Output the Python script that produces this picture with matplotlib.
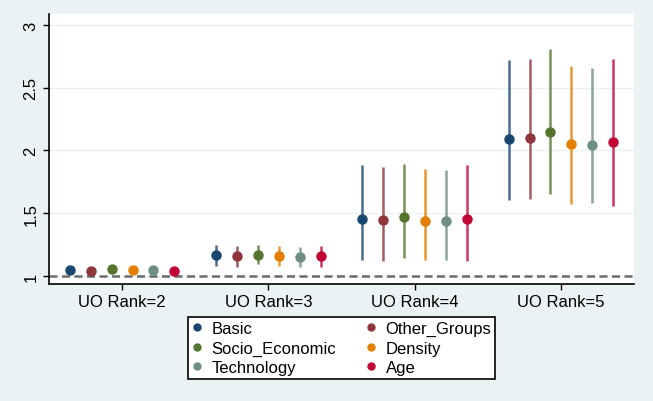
import numpy as np
import matplotlib
matplotlib.use('Agg')
import matplotlib.pyplot as plt
from matplotlib.lines import Line2D

plt.rcParams['font.family'] = ['Liberation Sans', 'DejaVu Sans']

categories = ['UO Rank=2', 'UO Rank=3', 'UO Rank=4', 'UO Rank=5']
models = ['Basic', 'Other_Groups', 'Socio_Economic', 'Density', 'Technology', 'Age']
colors = ['#1a476f', '#90353b', '#55752f', '#e37e00', '#6e8e84', '#c10534']

# point estimates per model, one value per category
est = {
    'Basic':          [1.048, 1.165, 1.454, 2.090],
    'Other_Groups':   [1.040, 1.157, 1.446, 2.097],
    'Socio_Economic': [1.056, 1.170, 1.473, 2.150],
    'Density':        [1.048, 1.157, 1.440, 2.050],
    'Technology':     [1.045, 1.155, 1.440, 2.040],
    'Age':            [1.043, 1.157, 1.450, 2.065],
}
lower = {
    'Basic':          [1.040, 1.082, 1.130, 1.605],
    'Other_Groups':   [1.032, 1.074, 1.120, 1.610],
    'Socio_Economic': [1.047, 1.096, 1.143, 1.650],
    'Density':        [1.040, 1.082, 1.127, 1.570],
    'Technology':     [1.036, 1.074, 1.130, 1.580],
    'Age':            [1.035, 1.074, 1.117, 1.560],
}
upper = {
    'Basic':          [1.056, 1.247, 1.885, 2.720],
    'Other_Groups':   [1.048, 1.237, 1.870, 2.730],
    'Socio_Economic': [1.065, 1.250, 1.890, 2.810],
    'Density':        [1.056, 1.237, 1.853, 2.675],
    'Technology':     [1.054, 1.234, 1.845, 2.655],
    'Age':            [1.051, 1.237, 1.887, 2.730],
}

bg = '#eaf2f3'
fig = plt.figure(figsize=(6.53, 4.02), dpi=100, facecolor=bg)
ax = fig.add_axes([0.075, 0.291, 0.896, 0.672])
ax.set_facecolor('white')

x = np.arange(1, len(categories) + 1)
step = 0.143
for i, m in enumerate(models):
    xi = x + (i - 2.5) * step
    e = np.array(est[m])
    lo = np.array(lower[m])
    hi = np.array(upper[m])
    ax.vlines(xi, lo, hi, color=colors[i], lw=1.8, alpha=0.8, zorder=3)
    ax.plot(xi, e, 'o', color=colors[i], ms=6.5, zorder=4)

ax.axhline(1, color='#6b6b6b', lw=1.8, ls=(0, (3.2, 1.8)), zorder=2)

ax.set_xlim(0.5, 4.5)
ax.set_ylim(0.936, 3.088)
ax.set_yticks([1, 1.5, 2, 2.5, 3])
ax.set_yticklabels(['1', '1.5', '2', '2.5', '3'], rotation=90, va='center', fontsize=12)
ax.set_xticks(x)
ax.set_xticklabels(categories, fontsize=12)
ax.yaxis.grid(True, color=bg, lw=1)
ax.set_axisbelow(True)
for s in ['top', 'right']:
    ax.spines[s].set_visible(False)
ax.spines['left'].set_linewidth(1.2)
ax.spines['bottom'].set_linewidth(1.2)
ax.tick_params(length=4, width=1)

order = [0, 2, 4, 1, 3, 5]
handles = [Line2D([], [], marker='o', ls='', color=colors[k], ms=5) for k in order]
labels = [models[k] for k in order]
leg = fig.legend(handles, labels, ncol=2, loc='center', bbox_to_anchor=(0.523, 0.132),
                 fontsize=12, frameon=True, fancybox=False, edgecolor='black',
                 facecolor='white', framealpha=1,
                 handletextpad=0.6, columnspacing=1.75, borderpad=0.25, labelspacing=0.28,
                 handlelength=0.6, borderaxespad=0)
leg.get_frame().set_linewidth(1.2)

fig.savefig('out.png', dpi=100, facecolor=bg)
